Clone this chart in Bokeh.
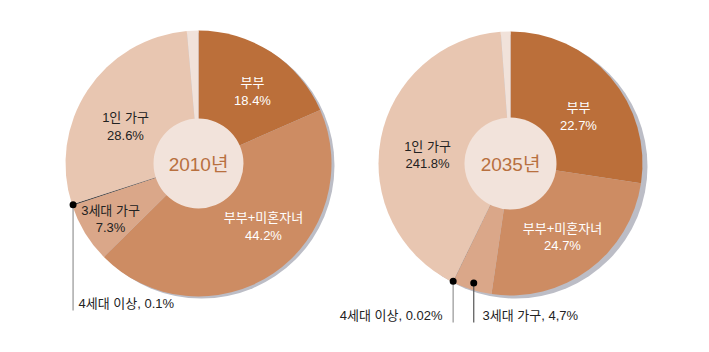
import math
from bokeh.plotting import figure
from bokeh.models import Range1d
from bokeh.core.properties import value
from bokeh.embed import file_html
from bokeh.resources import INLINE

W, H = 709, 352

# ---- data ----
categories = ["부부", "부부+미혼자녀", "3세대 가구", "4세대 이상", "1인 가구", "기타"]
shares_2010 = [18.4, 44.2, 7.3, 0.1, 28.6, 1.4]
shares_2035 = [27.4, 24.9, 4.9, 0.02, 41.6, 1.18]
pct_labels_2010 = ["18.4%", "44.2%", "7.3%", "0.1%", "28.6%"]
pct_labels_2035 = ["22.7%", "24.7%", "4,7%", "0.02%", "241.8%"]
years = ["2010년", "2035년"]

# ---- style ----
colors = ["#bb6f3a", "#cd8c63", "#daa789", "#333333", "#e8c6b1", "#f1e2da"]
FONT = value("'Liberation Sans', 'Noto Sans CJK KR'")

p = figure(width=W, height=H, output_backend="svg", toolbar_location=None,
           x_range=Range1d(0, W), y_range=Range1d(0, H), min_border=0)
p.axis.visible = False
p.grid.visible = False
p.outline_line_color = None
p.background_fill_color = "white"


def Y(py):
    return H - py


def draw_pie(cx, cy, R, r_in, shares, shadow):
    total = sum(shares)
    p.circle(x=[cx + shadow[0]], y=[Y(cy + shadow[1])], radius=R,
             fill_color="#bcbdc6", line_color=None)
    cum = 0.0
    starts, ends = [], []
    for s in shares:
        a0 = math.pi / 2 - 2 * math.pi * cum / total
        cum += s
        a1 = math.pi / 2 - 2 * math.pi * cum / total
        starts.append(a0)
        ends.append(a1)
    p.wedge(x=[cx] * len(shares), y=[Y(cy)] * len(shares), radius=R,
            start_angle=starts, end_angle=ends, direction="clock",
            fill_color=colors[:len(shares)], line_color=None)
    p.circle(x=[cx], y=[Y(cy)], radius=r_in, fill_color="#f2e3db", line_color=None)
    return starts, ends


def txt(x, y, s, color="#222222", size="13px", align="center", font=FONT):
    p.text(x=[x], y=[Y(y)], text=[s], text_font=font, text_font_size=size,
           text_color=color, text_align=align, text_baseline="middle")


def pt_on(cx, cy, r, ang):
    return cx + r * math.cos(ang), cy - r * math.sin(ang)


# ---- 2010 ----
cx1, cy1, R1 = 198, 163, 133
s1, e1 = draw_pie(cx1, cy1, R1, 45, shares_2010, (3, 2))
txt(cx1, cy1 + 1, years[0], color="#b8703f", size="19px")
txt(252, 82, categories[0], color="white")
txt(252, 100, pct_labels_2010[0], color="white")
txt(263, 217, categories[1], color="white")
txt(263, 235, pct_labels_2010[1], color="white")
txt(110, 210, categories[2])
txt(110, 227, pct_labels_2010[2])
txt(125, 117, categories[4])
txt(125, 135, pct_labels_2010[4])
mid = (s1[3] + e1[3]) / 2
dx, dy = pt_on(cx1, cy1, R1 - 1, mid)
p.line(x=[dx, dx], y=[Y(dy), Y(310)], line_color="#aaaaaa", line_width=1.5)
p.scatter(x=[dx], y=[Y(dy)], size=7, fill_color="black", line_color=None)
txt(78, 303, categories[3] + ", " + pct_labels_2010[3], align="left")

# ---- 2035 ----
cx2, cy2, R2 = 510, 163, 132
s2, e2 = draw_pie(cx2, cy2, R2, 46, shares_2035, (5, 3))
txt(cx2, cy2 + 1, years[1], color="#b8703f", size="19px")
txt(578, 107, categories[0], color="white")
txt(578, 125, pct_labels_2035[0], color="white")
txt(562, 228, categories[1], color="white")
txt(562, 245, pct_labels_2035[1], color="white")
txt(427, 146, categories[4])
txt(427, 163, pct_labels_2035[4])
mid4 = (s2[3] + e2[3]) / 2
d1x, d1y = pt_on(cx2, cy2, R2 - 1, mid4)
mid3 = (s2[2] + e2[2]) / 2
d2x, d2y = pt_on(cx2, cy2, R2 - 7, mid3)
p.line(x=[d1x, d1x], y=[Y(d1y), Y(322)], line_color="#aaaaaa", line_width=1.5)
p.line(x=[d2x, d2x], y=[Y(d2y), Y(322)], line_color="#555555", line_width=1.2)
p.scatter(x=[d1x, d2x], y=[Y(d1y), Y(d2y)], size=7, fill_color="black", line_color=None)
txt(442, 315, categories[3] + ", " + pct_labels_2035[3], align="right")
txt(482, 315, categories[2] + ", " + pct_labels_2035[2], align="left")

open("out.html", "w").write(file_html(p, INLINE))
